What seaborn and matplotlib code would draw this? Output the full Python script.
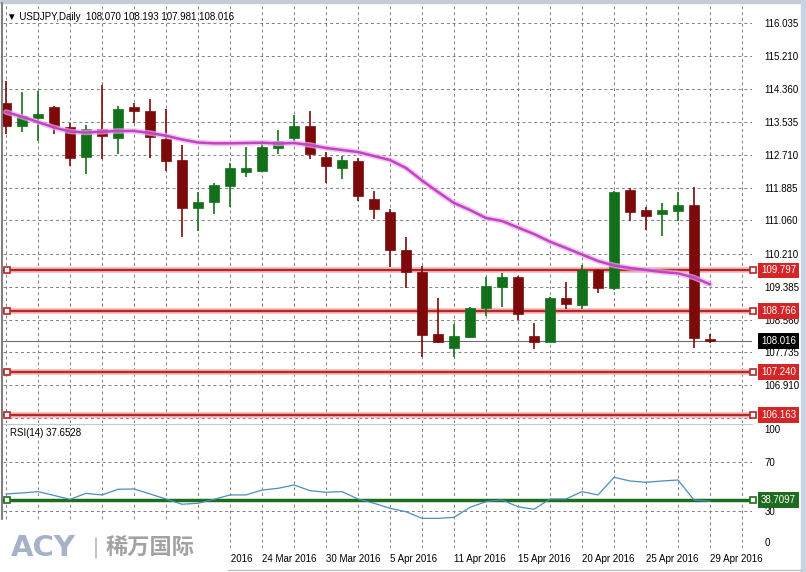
import numpy as np
import pandas as pd
import matplotlib.pyplot as plt
import seaborn as sns
from matplotlib.patches import Rectangle
from matplotlib.lines import Line2D
from matplotlib.transforms import blended_transform_factory

# ==========================
# Data
# ==========================
opens = [114.011, 113.446, 113.648, 113.918, 113.406, 112.649, 113.363, 113.144, 113.925, 113.817,
         113.111, 112.582, 111.364, 111.515, 111.934, 112.287, 112.312, 112.876, 113.144, 113.439,
         112.649, 112.388, 112.556, 111.598, 111.263, 110.313, 109.758, 108.188, 107.850, 108.128,
         108.843, 109.388, 109.632, 108.153, 108.001, 109.095, 108.926, 109.809, 109.363, 111.825,
         111.321, 111.213, 111.304, 111.447, 108.070]
highs = [114.573, 114.303, 114.321, 113.943, 113.522, 113.464, 114.472, 113.943, 114.011, 114.119,
         113.860, 112.960, 111.767, 112.009, 112.513, 112.917, 113.043, 113.338, 113.716, 113.817,
         112.791, 112.682, 112.640, 111.808, 111.346, 110.633, 109.909, 109.110, 108.440, 108.884,
         109.625, 109.725, 109.657, 108.465, 109.120, 109.499, 109.935, 109.826, 111.800, 111.868,
         111.389, 111.490, 111.767, 111.893, 108.193]
lows = [113.229, 113.295, 113.060, 113.229, 112.430, 112.221, 112.607, 112.733, 113.507, 112.624,
        112.304, 110.648, 110.792, 111.213, 111.389, 112.146, 112.287, 112.725, 113.068, 112.607,
        111.994, 112.110, 111.548, 111.094, 109.877, 109.347, 107.623, 107.976, 107.623, 108.102,
        108.649, 108.884, 108.548, 107.817, 107.986, 108.818, 108.826, 109.237, 109.304, 111.044,
        110.817, 110.673, 111.051, 107.850, 107.981]
closes = [113.446, 113.691, 113.741, 113.446, 112.624, 113.363, 113.194, 113.867, 113.824, 113.169,
          112.564, 111.379, 111.515, 111.951, 112.372, 112.380, 112.909, 113.061, 113.439, 112.725,
          112.438, 112.582, 111.682, 111.339, 110.313, 109.766, 108.178, 108.001, 108.145, 108.852,
          109.405, 109.632, 108.692, 108.001, 109.095, 108.944, 109.809, 109.363, 111.782, 111.278,
          111.178, 111.321, 111.447, 108.087, 108.016]
ma = [113.791, 113.673, 113.539, 113.401, 113.300, 113.275, 113.295, 113.313, 113.313, 113.262,
      113.194, 113.098, 113.023, 113.002, 113.002, 113.010, 113.018, 112.997, 113.010, 112.960,
      112.884, 112.834, 112.783, 112.682, 112.581, 112.380, 112.065, 111.775, 111.498, 111.321,
      111.119, 111.044, 110.880, 110.716, 110.522, 110.363, 110.199, 110.035, 109.922, 109.859,
      109.809, 109.758, 109.725, 109.620, 109.448]
rsi = [43.7, 44.5, 45.6, 42.5, 39.3, 44.2, 42.9, 47.5, 47.8, 43.7,
       39.6, 35.3, 36.1, 39.3, 42.9, 42.9, 46.9, 48.3, 51.0, 46.4,
       45.1, 45.6, 39.6, 36.1, 32.0, 29.2, 23.8, 23.8, 24.6, 32.8,
       37.4, 38.8, 33.3, 31.2, 39.6, 39.6, 45.6, 42.9, 57.3, 54.3,
       53.2, 54.3, 55.1, 38.8, 37.65]

price_ticks = [116.035, 115.210, 114.360, 113.535, 112.710, 111.885, 111.060,
               110.210, 109.385, 108.560, 107.735, 106.910, 106.085]
levels = [109.797, 108.766, 107.240, 106.163]
last_price = 108.016
rsi_level = 38.7097
rsi_ticks = [100, 70, 30, 0]

# date labels visible right of the logo
date_pos = [12, 16, 20, 24, 28, 32, 36, 40, 44]
date_labels = ['18 Mar 2016', '24 Mar 2016', '30 Mar 2016', '5 Apr 2016', '11 Apr 2016',
               '15 Apr 2016', '20 Apr 2016', '25 Apr 2016', '29 Apr 2016']

df = pd.DataFrame({'open': opens, 'high': highs, 'low': lows, 'close': closes,
                   'ma': ma, 'rsi': rsi})
df['k'] = np.arange(len(df))

# ==========================
# Style / figure
# ==========================
sns.set_style("white")
plt.rcParams['font.family'] = ['Liberation Sans', 'DejaVu Sans', 'Noto Sans CJK SC']

GREEN = '#13701a'
RED = '#7d0a0a'
LEVEL_RED = '#b42828'
BOX_RED = '#d42626'
RSI_GREEN = '#1f6b1f'
GRID = '#808080'

W, H = 806, 572
fig = plt.figure(figsize=(W / 100, H / 100), dpi=100)


def fx(px):
    return px / W


def fy(py):
    return 1 - py / H


ax = fig.add_axes([fx(3), fy(423), fx(752) - fx(3), fy(4) - fy(423)])
ax_rsi = fig.add_axes([fx(3), fy(548), fx(752) - fx(3), fy(424) - fy(548)])

xmin, xmax = (3 - 6) / 16, (752 - 6) / 16
for a in (ax, ax_rsi):
    a.set_xlim(xmin, xmax)
    for s in a.spines.values():
        s.set_visible(False)
    for g in range(0, 47, 2):
        a.axvline(g, color=GRID, ls=(0, (3, 3)), lw=0.7, zorder=0)

# ==========================
# Main price panel
# ==========================
ax.set_ylim(105.952, 116.514)
for t in price_ticks:
    ax.axhline(t, color=GRID, ls=(0, (3, 3)), lw=0.7, zorder=0)

# support / resistance lines
for lvl in levels:
    ax.axhline(lvl, color='#f4b4b4', lw=4, zorder=1)
    ax.axhline(lvl, color=LEVEL_RED, lw=1.6, zorder=1.1)
    ax.plot([0.06], [lvl], marker='s', ms=4, mfc='white', mec=LEVEL_RED, mew=1.2, zorder=6)
    ax.plot([46.69], [lvl], marker='s', ms=4, mfc='white', mec=LEVEL_RED, mew=1.2,
            zorder=6, clip_on=False)

ax.axhline(last_price, color='#6e6e6e', lw=0.8, zorder=1)

# candles
up = df['close'] >= df['open']
cols = np.where(up, GREEN, RED)
ax.vlines(df['k'], df['low'], df['high'], colors=cols, lw=1.2, zorder=3)
body = (df['close'] - df['open']).abs().clip(lower=0.035)
ax.bar(df['k'], body, bottom=df[['open', 'close']].min(axis=1), width=0.68,
       color=cols, edgecolor=cols, lw=0.5, zorder=4)

# moving average
sns.lineplot(x=df['k'], y=df['ma'], ax=ax, color='#eab0ea', lw=4, alpha=0.7,
             legend=False, zorder=4.5)
sns.lineplot(x=df['k'], y=df['ma'], ax=ax, color='#c443c4', lw=1.8,
             legend=False, zorder=5)

ax.yaxis.tick_right()
ax.set_yticks(price_ticks)
ax.set_yticklabels([f'{t:.3f}' for t in price_ticks])
ax.tick_params(axis='y', length=0, pad=9, labelsize=7, colors='black')
ax.set_xticks([])
ax.set_xlabel('')
ax.set_ylabel('')

tr = blended_transform_factory(ax.transAxes, ax.transData)
xlab = (761 - 3) / (752 - 3)
for lvl in levels:
    ax.text(xlab, lvl, f'{lvl:.3f}', transform=tr, ha='left', va='center',
            color='white', fontsize=7, clip_on=False, zorder=10,
            bbox=dict(boxstyle='square,pad=0.3', fc=BOX_RED, ec='none'))
ax.text(xlab, last_price, f'{last_price:.3f}', transform=tr, ha='left', va='center',
        color='white', fontsize=7, clip_on=False, zorder=10,
        bbox=dict(boxstyle='square,pad=0.3', fc='black', ec='none'))

# ==========================
# RSI panel
# ==========================
ax_rsi.set_ylim(-0.4, 100.8)
for t in (70, 30):
    ax_rsi.axhline(t, color=GRID, ls=(0, (3, 3)), lw=0.7, zorder=0)

ax_rsi.axhline(rsi_level, color=RSI_GREEN, lw=2.5, zorder=2)
ax_rsi.plot([0.06], [rsi_level], marker='s', ms=4, mfc='white', mec=RSI_GREEN, mew=1.2, zorder=6)
ax_rsi.plot([46.69], [rsi_level], marker='s', ms=4, mfc='white', mec=RSI_GREEN, mew=1.2,
            zorder=6, clip_on=False)
sns.lineplot(x=df['k'], y=df['rsi'], ax=ax_rsi, color='#4a8fba', lw=0.9,
             legend=False, zorder=3)

ax_rsi.yaxis.tick_right()
ax_rsi.set_yticks(rsi_ticks)
ax_rsi.set_yticklabels([str(t) for t in rsi_ticks])
ax_rsi.tick_params(axis='y', length=0, pad=9, labelsize=7, colors='black')
labs = ax_rsi.get_yticklabels()
labs[0].set_va('top')
labs[-1].set_va('bottom')

ax_rsi.set_xticks(date_pos)
ax_rsi.set_xticklabels(date_labels, ha='left')
ax_rsi.tick_params(axis='x', length=0, pad=4, labelsize=7, colors='black')
ax_rsi.set_xlabel('')
ax_rsi.set_ylabel('')

tr2 = blended_transform_factory(ax_rsi.transAxes, ax_rsi.transData)
ax_rsi.text(xlab, rsi_level, f'{rsi_level:.4f}', transform=tr2, ha='left', va='center',
            color='white', fontsize=7, clip_on=False, zorder=10,
            bbox=dict(boxstyle='square,pad=0.3', fc=RSI_GREEN, ec='none'))

# ==========================
# Header texts and frame
# ==========================
fig.text(fx(7), fy(17), '▼ USDJPY,Daily  108.070 108.193 107.981 108.016',
         ha='left', va='center', fontsize=7, color='black')
fig.text(fx(10), fy(433), 'RSI(14) 37.6528', ha='left', va='center', fontsize=7, color='black')

fig.add_artist(Line2D([fx(3), fx(752)], [fy(424), fy(424)], color='#c8c8c8', lw=0.8))
fig.add_artist(Rectangle((0, fy(3)), 1, fy(0) - fy(3), color='#c4ccd8', zorder=15))
fig.add_artist(Rectangle((fx(801), 0), fx(5), 1, color='#c8d3e2', zorder=15))
fig.add_artist(Line2D([fx(1.5), fx(1.5)], [fy(3), fy(520)], color='#808080', lw=1.5, zorder=15))
fig.add_artist(Line2D([fx(227), fx(801)], [fy(569.5), fy(569.5)], color='#c0c0c0', lw=1, zorder=15))

# ACY logo box (covers lower-left corner)
fig.add_artist(Rectangle((0, 0), fx(227), fy(520), color='white', zorder=20))
fig.text(fx(11), fy(548), 'ACY', ha='left', va='center', fontsize=21, fontweight='bold',
         color='#a6b2c9', family=['DejaVu Sans'], zorder=21)
fig.add_artist(Line2D([fx(96), fx(96)], [fy(538), fy(558)], color='#b8b8b8', lw=1.2, zorder=21))
fig.text(fx(106), fy(548), '稀万国际', ha='left', va='center', fontsize=16, fontweight='bold',
         color='#a2a2a2', family=['Noto Sans CJK SC'], zorder=21)

plt.savefig("out.png", dpi=100)
